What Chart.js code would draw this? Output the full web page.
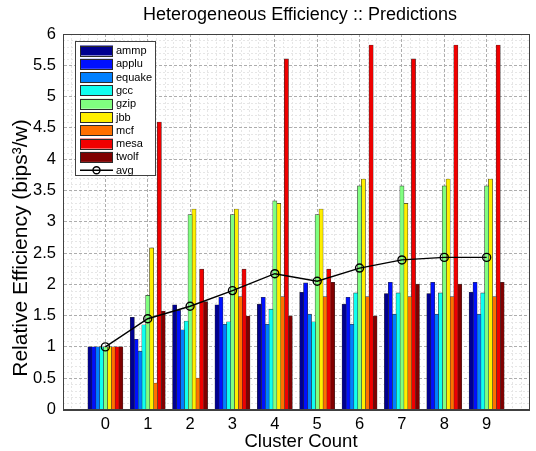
<!DOCTYPE html>
<html>
<head>
<meta charset="utf-8">
<script src="https://cdn.jsdelivr.net/npm/chart.js@4.4.1/dist/chart.umd.min.js"></script>
<style>
  html, body { margin: 0; padding: 0; background: #ffffff; }
  #wrap { width: 536px; height: 451px; position: relative; }
</style>
</head>
<body>
<div id="wrap"><canvas id="canvasEficiencia"></canvas></div>
<script>
// cluster counts (x categories)
var categories = [0, 1, 2, 3, 4, 5, 6, 7, 8, 9];

// per-benchmark relative efficiency
var ammp   = [1, 1.47, 1.67, 1.67, 1.68, 1.87, 1.68, 1.85, 1.85, 1.87];
var applu  = [1, 1.12, 1.58, 1.79, 1.79, 2.02, 1.79, 2.03, 2.03, 2.03];
var equake = [1, 0.93, 1.27, 1.36, 1.36, 1.52, 1.36, 1.52, 1.52, 1.52];
var gcc    = [1, 1.35, 1.41, 1.40, 1.60, 1.40, 1.86, 1.86, 1.86, 1.86];
var gzip   = [1, 1.82, 3.11, 3.11, 3.33, 3.11, 3.57, 3.57, 3.57, 3.57];
var jbb    = [1, 2.58, 3.20, 3.20, 3.29, 3.20, 3.68, 3.29, 3.68, 3.68];
var mcf    = [1, 0.42, 0.50, 1.80, 1.80, 1.80, 1.80, 1.80, 1.80, 1.80];
var mesa   = [1, 4.59, 2.24, 2.24, 5.60, 2.24, 5.82, 5.60, 5.82, 5.82];
var twolf  = [1, 1.57, 1.72, 1.49, 1.49, 2.03, 1.49, 2.00, 2.00, 2.03];
var avg    = [1, 1.45, 1.65, 1.90, 2.17, 2.05, 2.26, 2.39, 2.43, 2.43];

var benchNames = ['ammp', 'applu', 'equake', 'gcc', 'gzip', 'jbb', 'mcf', 'mesa', 'twolf'];
var benchSeries = [ammp, applu, equake, gcc, gzip, jbb, mcf, mesa, twolf];
var benchColors = ['#000090', '#0010ff', '#0080ff', '#10ffef', '#80ff80',
                   '#ffef00', '#ff7000', '#f00000', '#800000'];

var yTicks = [0, 0.5, 1, 1.5, 2, 2.5, 3, 3.5, 4, 4.5, 5, 5.5, 6];

var FONT = "'Liberation Sans', Arial, sans-serif";

var datasets = benchNames.map(function (name, i) {
    return {
        type: 'bar',
        label: name,
        data: benchSeries[i],
        backgroundColor: benchColors[i],
        borderColor: '#333333',
        borderWidth: 0.6,
        inflateAmount: 0.5,
        categoryPercentage: 0.82,
        barPercentage: 1,
        order: 1
    };
});

datasets.push({
    type: 'line',
    label: 'avg',
    data: avg,
    borderColor: '#000000',
    borderWidth: 1.4,
    pointRadius: 4,
    pointBorderWidth: 1.4,
    pointBackgroundColor: 'rgba(0,0,0,0)',
    pointBorderColor: '#000000',
    fill: false,
    tension: 0,
    order: 0
});

// minor grid, drawn underneath the major grid
var minorGrid = {
    id: 'minorGrid',
    beforeDraw: function (chart) {
        var c = chart.ctx, a = chart.chartArea;
        var xs = chart.scales.x, ys = chart.scales.y;
        c.save();
        c.strokeStyle = '#e6e6e6';
        c.lineWidth = 1;
        c.setLineDash([2, 2]);
        for (var k = -5; k <= 50; k++) {
            if (k % 5 === 0) continue;
            var px = Math.round(xs.getPixelForValue(k / 5)) + 0.5;
            c.beginPath(); c.moveTo(px, a.top); c.lineTo(px, a.bottom); c.stroke();
        }
        for (var j = 1; j < 60; j++) {
            if (j % 5 === 0) continue;
            var py = Math.round(ys.getPixelForValue(j / 10)) + 0.5;
            c.beginPath(); c.moveTo(a.left, py); c.lineTo(a.right, py); c.stroke();
        }
        c.restore();
    }
};

// box, titles and legend
var decor = {
    id: 'decor',
    afterDraw: function (chart) {
        var c = chart.ctx, a = chart.chartArea;
        c.save();
        c.strokeStyle = '#404040';
        c.lineWidth = 1;
        c.strokeRect(Math.round(a.left) + 0.5, Math.round(a.top) + 0.5,
            Math.round(a.right - a.left), Math.round(a.bottom - a.top));

        c.fillStyle = '#000000';
        c.textAlign = 'center';
        c.textBaseline = 'middle';
        c.font = '18px ' + FONT;
        c.fillText('Heterogeneous Efficiency :: Predictions', 300, 15);
        c.font = '18.5px ' + FONT;
        c.fillText('Cluster Count', 301, 442);
        c.save();
        c.translate(21, 248);
        c.rotate(-Math.PI / 2);
        c.font = '21px ' + FONT;
        c.fillText('Relative Efficiency (bips\u00b3/w)', 0, 0);
        c.restore();

        // legend
        var lx = 75.5, ly = 41.5, lw = 80, lh = 134;
        c.fillStyle = '#ffffff';
        c.fillRect(lx, ly, lw, lh);
        c.strokeStyle = '#404040';
        c.strokeRect(lx, ly, lw, lh);
        c.font = '11px ' + FONT;
        c.textAlign = 'left';
        chart.data.datasets.forEach(function (ds, i) {
            var cy = 50.5 + i * 13.3;
            if (ds.type === 'bar') {
                c.fillStyle = ds.backgroundColor;
                c.fillRect(80, cy - 5, 33, 10);
                c.strokeStyle = '#2a2a2a';
                c.strokeRect(80.5, Math.round(cy - 5) + 0.5, 32, 10);
            } else {
                c.strokeStyle = '#000000';
                c.lineWidth = 1.4;
                c.beginPath(); c.moveTo(80, cy); c.lineTo(113, cy); c.stroke();
                c.beginPath(); c.arc(96.5, cy, 3.5, 0, Math.PI * 2); c.stroke();
                c.lineWidth = 1;
            }
            c.fillStyle = '#000000';
            c.fillText(ds.label, 116, cy + 0.5);
        });
        c.restore();
    }
};

new Chart(document.getElementById('canvasEficiencia'), {
    data: {
        labels: categories,
        datasets: datasets
    },
    plugins: [minorGrid, decor],
    options: {
        responsive: true,
        maintainAspectRatio: false,
        animation: false,
        layout: { padding: { top: 34, right: 7, bottom: 0, left: 0 } },
        plugins: {
            legend: { display: false },
            tooltip: { enabled: false },
            title: { display: false }
        },
        scales: {
            x: {
                type: 'linear',
                min: -1,
                max: 10,
                offset: false,
                afterFit: function (s) { s.height = 41.5; },
                grid: { color: '#adadad', drawTicks: false, offset: false },
                border: { color: '#404040', dash: [3, 2] },
                ticks: {
                    stepSize: 1,
                    padding: 5,
                    color: '#000000',
                    font: { family: FONT, size: 16.5 },
                    callback: function (v) {
                        return categories.indexOf(v) >= 0 ? String(v) : '';
                    }
                }
            },
            y: {
                min: 0,
                max: 6,
                afterFit: function (s) { s.width = 63; },
                afterBuildTicks: function (s) {
                    s.ticks = yTicks.map(function (v) { return { value: v }; });
                },
                grid: { color: '#adadad', drawTicks: false },
                border: { color: '#404040', dash: [3, 2] },
                ticks: {
                    padding: 7,
                    color: '#000000',
                    font: { family: FONT, size: 16.5 },
                    callback: function (v) { return String(v); }
                }
            }
        }
    }
});
</script>
</body>
</html>
